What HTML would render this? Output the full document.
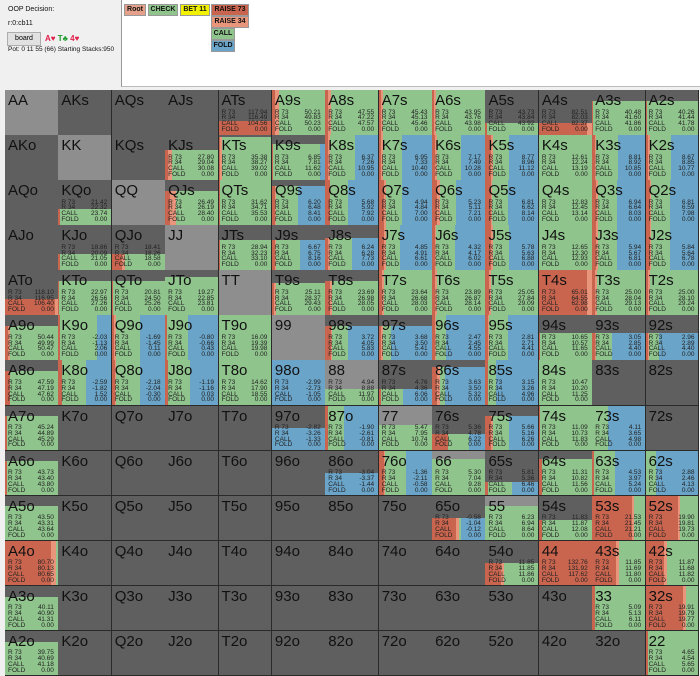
<!DOCTYPE html>
<html><head><meta charset="utf-8">
<style>
body{margin:0;width:700px;height:676px;background:#f0f0f0;font-family:"Liberation Sans",sans-serif;position:relative;overflow:hidden}
.t{position:absolute;font-size:7px;color:#111;white-space:nowrap}
.btn{position:absolute;font-size:7px;font-weight:bold;color:#111;text-align:center;line-height:10px;height:10px;border:1px solid #999}
#grid{position:absolute;left:5px;top:90px;width:694px;height:586px;background:#333}
.cell{position:absolute;overflow:hidden;border-right:1px solid #2a2a2a;border-bottom:1px solid #2a2a2a;box-sizing:border-box}
.nm{position:absolute;left:3px;top:2px;font-size:15px;color:#111}
.vl{position:absolute;left:3px;font-size:6.5px;line-height:6px;color:#222}
.vr{position:absolute;font-size:6.5px;line-height:6px;color:#222;text-align:right}
</style></head><body>
<div>
<div class="t" style="left:8px;top:6px">OOP Decision:</div>
<div class="t" style="left:8px;top:20px">r:0:cb11</div>
<div style="position:absolute;left:7px;top:32px;width:32px;height:12px;background:#e1e1e1;border:1px solid #adadad;font-size:7px;text-align:center;line-height:12px">board</div>
<div class="t" style="left:45px;top:34px;font-size:8px;font-weight:bold"><span style="color:#e0204a">A♥</span> <span style="color:#1a9a2a">T♣</span> <span style="color:#e0204a">4♥</span></div>
<div class="t" style="left:8px;top:46px;font-size:6.5px">Pot: 0 11 55 (66) Starting Stacks:950</div>
</div>
<div style="position:absolute;left:121px;top:0;width:579px;height:86px;border-left:1px solid #999;border-bottom:1px solid #bbb;background:#fff"></div>
<div class="btn" style="left:124px;top:4px;width:20px;background:#e4a08a">Root</div>
<div class="btn" style="left:148px;top:4px;width:28px;background:#8fc48c">CHECK</div>
<div class="btn" style="left:180px;top:4px;width:28px;background:#f2f200">BET 11</div>
<div class="btn" style="left:211px;top:4px;width:36px;background:#c9654f">RAISE 73</div>
<div class="btn" style="left:211px;top:16px;width:36px;background:#e8957b">RAISE 34</div>
<div class="btn" style="left:211px;top:28px;width:22px;background:#8fc48c">CALL</div>
<div class="btn" style="left:211px;top:40px;width:22px;background:#6aa4c8">FOLD</div>
<div id="grid"></div>
<script>
const ranks=["A","K","Q","J","T","9","8","7","6","5","4","3","2"];
// weights (fraction of hand in range), row-major 13x13
const weights=[
[0,0,0,0,.3,1,1,1,1,.25,.25,.75,.75],
[0,0,0,.65,.95,.8,1,1,1,1,1,1,1],
[0,.35,0,.75,1,.85,1,1,1,1,1,1,1],
[0,.35,.35,0,.65,.65,.7,1,1,1,1,1,1],
[.35,.75,.75,.85,0,.7,.75,1,1,1,1,1,1],
[.75,1,1,1,1,0,.75,.75,1,1,.6,.6,.6],
[.75,1,1,1,1,1,.35,.35,.85,1,1,0,0],
[.75,0,0,0,0,.5,1,.55,.35,.75,1,1,0],
[.75,0,0,0,0,0,.5,1,.8,.3,.8,1,1],
[.75,0,0,0,0,0,0,0,.5,.75,.45,1,1],
[1,0,0,0,0,0,0,0,0,.5,1,1,1],
[.75,0,0,0,0,0,0,0,0,0,0,1,1],
[.75,0,0,0,0,0,0,0,0,0,0,0,1]];
// strategy mix per cell: [raise73, raise34, call, fold]
const mixes=[
[null,null,null,null,[1,0,0,0],[.05,.08,.87,0],[.05,.05,.9,0],[.04,.04,.92,0],[.04,.04,.92,0],[.02,0,.98,0],[.9,.1,0,0],[.02,0,.98,0],[.02,0,.98,0]],
[null,null,null,[.06,.06,.88,0],[.03,.03,.94,0],[.02,0,.88,.1],[.05,.04,.46,.45],[.04,.04,.35,.57],[.05,.04,.46,.45],[.1,.04,.3,.56],[0,0,1,0],[.05,.03,.4,.52],[.05,.03,.4,.52]],
[null,[.03,0,.97,0],null,[.1,.1,.8,0],[.02,0,.98,0],[.06,.02,.4,.52],[.08,0,.35,.57],[.1,.04,.3,.56],[.1,.04,.3,.56],[.1,.03,.3,.57],[0,0,1,0],[.08,.03,.35,.54],[.08,.03,.35,.54]],
[null,[.03,0,.97,0],[.2,.05,.75,0],null,[.03,0,.97,0],[.05,.02,.45,.48],[.06,.03,.41,.5],[.1,.04,.26,.6],[.05,.03,.35,.57],[.1,.04,.3,.56],[0,0,1,0],[.08,.03,.35,.54],[.08,.03,.35,.54]],
[[.93,.07,0,0],[.02,0,.98,0],[.03,0,.97,0],[0,0,1,0],null,[.04,.03,.93,0],[.08,.04,.88,0],[.06,.04,.9,0],[.06,.04,.9,0],[.06,.04,.9,0],[.9,.1,0,0],[.05,.04,.91,0],[.05,.04,.91,0]],
[[.06,.04,.9,0],[.03,0,.7,.27],[.05,.02,.45,.48],[.03,0,.4,.57],[0,0,1,0],null,[.1,.02,.3,.58],[.05,.03,.15,.77],[.05,.02,.2,.73],[.05,.02,.35,.58],[.02,0,.98,0],[.05,.02,.3,.63],[.04,.02,.2,.74]],
[[.1,0,.9,0],[.06,0,.45,.49],[.06,.02,.45,.47],[.06,0,.4,.54],[0,0,1,0],[0,0,0,1],[0,0,1,0],[.05,0,.4,.55],[.1,.04,.1,.76],[.05,0,.15,.8],[0,0,1,0],null,null],
[[.04,0,.96,0],null,null,null,null,[0,0,0,1],[.05,0,.3,.65],[0,0,1,0],[.3,0,.4,.3],[.1,.04,.3,.56],[.03,0,.97,0],[0,0,.3,.7],null],
[[.03,0,.97,0],null,null,null,null,null,[0,0,0,1],[.1,.02,.4,.48],[0,0,1,0],[.05,0,.45,.5],[.06,0,.94,0],[.03,0,.4,.57],[0,0,.2,.8]],
[[0,0,1,0],null,null,null,null,null,null,null,[.45,.05,.05,.45],[0,0,1,0],[.05,0,.95,0],[.75,.03,.22,0],[.6,.05,.35,0]],
[[.87,.08,.05,0],null,null,null,null,null,null,null,null,[.3,.05,.65,0],[1,0,0,0],[.45,.05,.5,0],[.35,.05,.6,0]],
[[0,0,1,0],null,null,null,null,null,null,null,null,null,null,[.05,0,.95,0],[.7,.05,.25,0]],
[[0,0,1,0],null,null,null,null,null,null,null,null,null,null,null,[.05,0,.95,0]]];
// EV values per cell: R73, R34, CALL (FOLD is 0.00)
const evs=[
[null,null,null,null,["117.94","116.49","104.56"],["50.21","49.83","50.23"],["47.55","47.22","47.57"],["45.43","45.13","45.46"],["43.95","43.76","43.98"],["43.73","43.84","43.92"],["82.51","82.03","82.37"],["40.48","41.60","41.86"],["40.26","41.44","41.78"]],
[null,null,null,["27.80","29.04","30.08"],["35.38","38.27","39.02"],["6.85","7.81","11.62"],["6.37","7.26","10.95"],["6.95","7.33","10.40"],["7.17","7.49","10.28"],["8.77","8.96","11.12"],["12.61","12.24","13.19"],["8.81","8.92","10.85"],["8.67","8.85","10.77"]],
[null,["21.42","22.32","23.74"],null,["26.49","26.19","28.40"],["31.62","34.71","35.53"],["6.20","6.48","8.41"],["5.68","5.92","7.92"],["4.94","4.84","7.00"],["5.23","5.11","7.21"],["6.81","6.62","8.14"],["12.83","12.45","13.14"],["6.94","6.64","8.03"],["6.81","6.59","7.98"]],
[null,["18.86","20.09","21.05"],["18.41","18.26","18.58"],null,["28.94","32.23","33.10"],["6.67","6.75","8.16"],["6.24","6.28","7.73"],["4.85","4.91","6.61"],["4.32","4.17","6.02"],["5.78","5.63","6.88"],["12.65","12.30","12.93"],["5.94","5.67","6.81"],["5.84","5.64","6.78"]],
[["118.10","116.95","106.40"],["22.97","26.56","27.26"],["20.81","24.50","25.26"],["19.27","22.85","23.81"],null,["25.11","28.37","29.43"],["23.69","26.98","28.05"],["23.64","26.68","28.03"],["23.89","26.87","28.14"],["25.05","27.84","29.09"],["65.01","64.55","62.98"],["25.00","28.04","29.13"],["25.00","28.10","29.24"]],
[["50.44","49.99","50.47"],["-2.03","-1.13","2.06"],["-1.69","-1.45","0.11"],["-0.80","-0.66","0.43"],["16.09","19.39","19.98"],null,["3.72","4.05","5.83"],["3.68","3.50","5.41"],["2.47","2.45","4.55"],["2.81","2.71","4.41"],["10.65","10.57","11.65"],["3.05","2.85","4.40"],["2.96","2.89","4.40"]],
[["47.59","47.19","47.62"],["-2.59","-1.82","1.52"],["-2.18","-2.04","-0.30"],["-1.19","-1.16","0.03"],["14.62","17.90","18.55"],["-2.99","-2.73","-1.05"],["4.94","8.88","11.97"],["4.76","4.36","6.06"],["3.63","3.50","5.32"],["3.15","3.26","4.96"],["10.47","10.20","11.25"],null,null],
[["45.24","44.89","45.29"],null,null,null,null,["-2.82","-3.26","-1.33"],["-1.90","-2.61","-0.81"],["5.47","7.95","10.74"],["5.36","4.78","6.22"],["5.66","5.16","6.26"],["11.09","10.73","11.83"],["4.11","3.65","4.98"],null],
[["43.73","43.40","43.80"],null,null,null,null,null,["-3.04","-3.37","-1.44"],["-1.36","-2.11","-0.58"],["5.30","7.04","9.28"],["5.81","5.36","6.46"],["11.31","10.82","11.56"],["4.53","3.97","5.24"],["2.88","2.46","4.13"]],
[["43.50","43.31","43.64"],null,null,null,null,null,null,null,["-0.58","-1.04","-0.12"],["6.23","6.94","8.64"],["11.83","11.87","12.08"],["21.53","21.45","21.21"],["19.90","19.81","19.73"]],
[["80.70","80.13","80.65"],null,null,null,null,null,null,null,null,["11.85","11.85","11.86"],["132.76","131.92","117.62"],["11.85","11.69","11.80"],["11.87","11.68","11.82"]],
[["40.11","40.90","41.31"],null,null,null,null,null,null,null,null,null,null,["5.09","5.13","6.11"],["19.91","19.79","19.77"]],
[["39.75","40.69","41.18"],null,null,null,null,null,null,null,null,null,null,null,["4.65","4.54","5.65"]]];
const actionLabels=["R 73","R 34","CALL","FOLD"];
const colors=["#c9654f","#e8957b","#8fc48c","#6aa4c8"];
const grid=document.getElementById('grid');
const cw=694/13, ch=586/13;
function hand(r,c){
  if(r===c) return ranks[r]+ranks[c];
  if(c>r) return ranks[r]+ranks[c]+"s";
  return ranks[c]+ranks[r]+"o";
}
for(let r=0;r<13;r++){for(let c=0;c<13;c++){
  const name=hand(r,c);
  const cell=document.createElement('div');
  cell.className='cell';
  
  
  cell.style.left=(c*cw)+'px';cell.style.top=(r*ch)+'px';
  cell.style.width=(cw+0.5)+'px';cell.style.height=(ch+0.5)+'px';
  cell.style.background=(r===c)?'#8e8e8e':'#5f5f5f';
  const w=weights[r][c], m=mixes[r][c];
  if(w>0&&m){
    const bh=ch*w; let x=0;
    for(let k=0;k<4;k++){
      if(m[k]<=0) continue;
      const s=document.createElement('div');
      
      
      s.style.cssText='position:absolute;bottom:0;height:'+bh+'px;left:'+(x*cw)+'px;width:'+(m[k]*cw+0.5)+'px;background:'+colors[k];
      cell.appendChild(s); x+=m[k];
    }
  }
  const nm=document.createElement('div');
  nm.className='nm';nm.textContent=name;
  
  
  cell.appendChild(nm);
  const ev=evs[r][c];
  if(ev){
    const vals=[ev[0],ev[1],ev[2],"0.00"];
    for(let k=0;k<4;k++){
      const l=document.createElement('div');l.className='vl';
      l.style.top=(19.5+k*5.8)+'px';l.textContent=actionLabels[k];
      
      
      cell.appendChild(l);
      const v=document.createElement('div');v.className='vr';
      v.style.top=(19.5+k*5.8)+'px';v.style.right='4px';v.textContent=vals[k];
      
      
      cell.appendChild(v);
    }
  }
  grid.appendChild(cell);
}}
</script>
</body></html>
